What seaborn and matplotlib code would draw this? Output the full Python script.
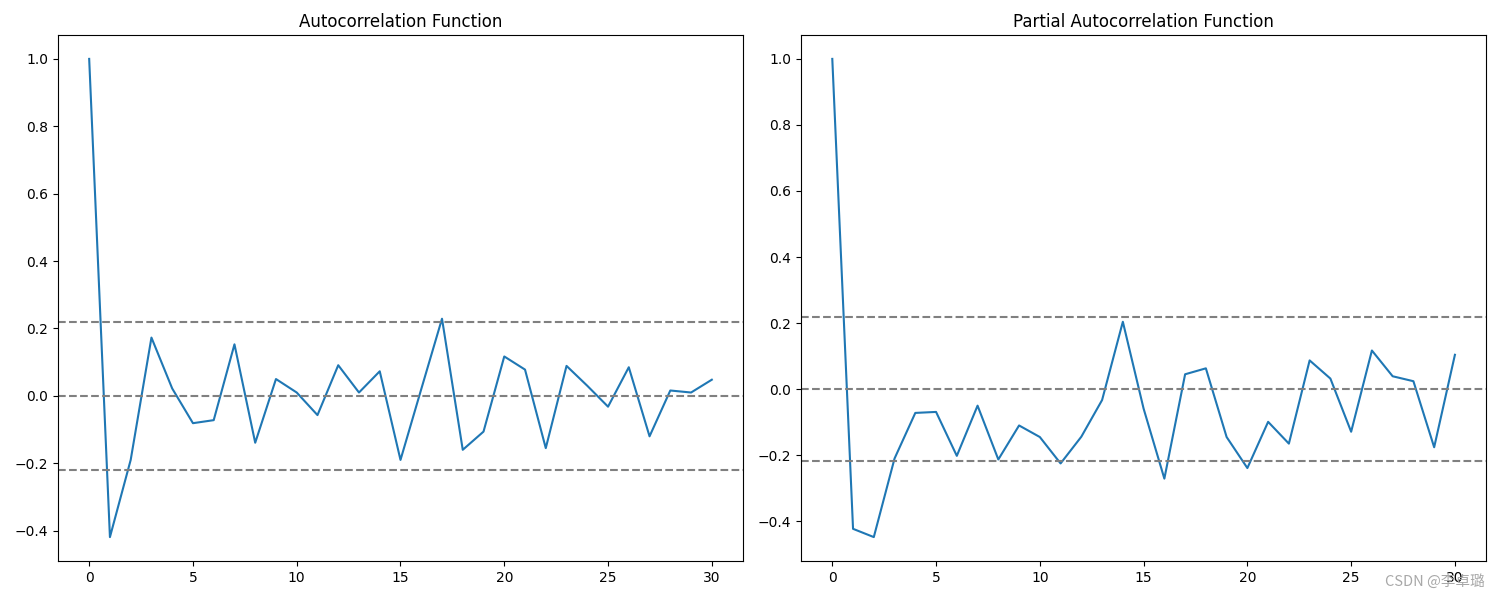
import numpy as np
import pandas as pd
import matplotlib
matplotlib.use("Agg")
import matplotlib.pyplot as plt
import seaborn as sns

# lags and values
lags = list(range(31))
acf_values = [1.0, -0.419, -0.19, 0.173, 0.022, -0.081, -0.072, 0.153, -0.139, 0.05,
              0.010, -0.057, 0.091, 0.010, 0.073, -0.19, 0.02, 0.229, -0.16, -0.106,
              0.117, 0.078, -0.155, 0.089, 0.03, -0.032, 0.085, -0.12, 0.016, 0.010,
              0.048]
pacf_values = [1.0, -0.423, -0.448, -0.21, -0.072, -0.069, -0.202, -0.05, -0.213, -0.11,
               -0.145, -0.225, -0.144, -0.033, 0.204, -0.059, -0.271, 0.045, 0.063, -0.145,
               -0.239, -0.099, -0.165, 0.087, 0.032, -0.129, 0.117, 0.039, 0.024, -0.176,
               0.104]
conf_bound = 0.219
titles = ["Autocorrelation Function", "Partial Autocorrelation Function"]

df = pd.DataFrame({"lag": lags, "acf": acf_values, "pacf": pacf_values})

fig, axes = plt.subplots(1, 2, figsize=(15, 6), dpi=100)

for ax, col, title in zip(axes, ["acf", "pacf"], titles):
    sns.lineplot(data=df, x="lag", y=col, ax=ax, color="#1f77b4", linewidth=1.5)
    ax.axhline(y=0, linestyle="--", color="gray", linewidth=1.5)
    ax.axhline(y=-conf_bound, linestyle="--", color="gray", linewidth=1.5)
    ax.axhline(y=conf_bound, linestyle="--", color="gray", linewidth=1.5)
    ax.set_title(title, fontsize=12)
    ax.set_xlabel("")
    ax.set_ylabel("")

# match the reference's axes placement
plt.subplots_adjust(left=0.0387, right=0.9907, top=0.9417, bottom=0.065, wspace=0.085)

fig.text(0.99, 0.018, "CSDN @李卓璐", ha="right", va="bottom", fontsize=10.5,
         color="#a8a8a8", family=["Noto Sans CJK SC", "DejaVu Sans"])

plt.savefig("out.png", dpi=100)
plt.close()
